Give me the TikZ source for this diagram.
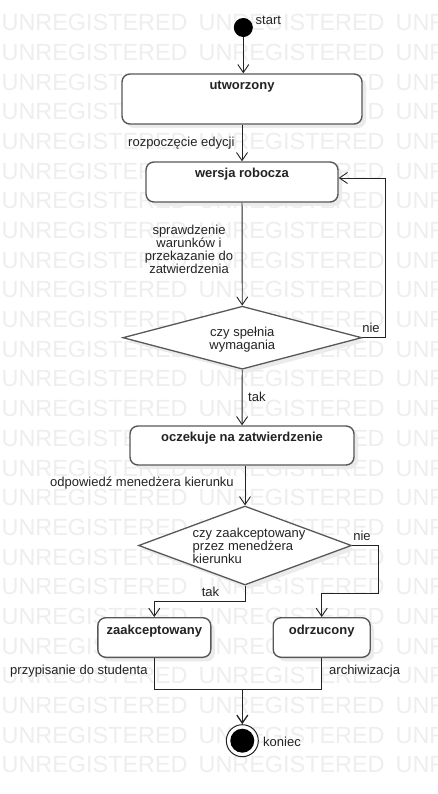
\documentclass[tikz,border=0pt]{standalone}
\usepackage{fontspec}
\setmainfont{Liberation Sans}
\usetikzlibrary{arrows.meta,shapes.geometric,shadows}
\definecolor{wmgray}{RGB}{238,238,238}
\definecolor{edge}{RGB}{88,88,88}
\definecolor{ink}{RGB}{35,35,35}
\tikzset{
  lbl/.style={font=\fontsize{13}{12.8}\selectfont, text=ink, inner sep=0pt},
  stlbl/.style={font=\fontsize{13}{13}\selectfont\bfseries, text=ink, inner sep=0pt, anchor=center},
  shade/.style={drop shadow={shadow xshift=4pt, shadow yshift=-4pt, fill=black!8, opacity=1}},
  statebox/.style={rectangle, rounded corners=8pt, draw=edge, line width=1.4pt, fill=white, inner sep=0pt, shade},
  decision/.style={diamond, draw=edge, line width=1.3pt, fill=white, inner sep=0pt, shade},
  flow/.style={draw=ink, line width=0.9pt, -{Straight Barb[length=8pt,width=11pt]}},
  link/.style={draw=ink, line width=0.9pt},
  wm/.style={font=\fontsize{23.4}{24}\selectfont, text=wmgray, inner sep=0pt, anchor=base west}
}
\begin{document}
\begin{tikzpicture}[x=1pt,y=-1pt]
\useasboundingbox (0,0) rectangle (438,794);
\fill[white] (0,0) rectangle (438,794);
% watermark
\begin{scope}
\clip (0,0) rectangle (438,794);
\foreach \k in {0,...,25}{
  \foreach \j in {0,1,2}{
    \node[wm] (wm-\k-\j) at (1.5+197*\j, 22.5+29.69*\k+8.2) {UNREGISTERED};
  }
}
\end{scope}

% start
\node[circle, fill=black, minimum size=19pt, inner sep=0pt] (start) at (243.3,27.5) {};
\node[lbl, anchor=west] (startT) at (255.5,20.5) {start};

% states
\node[statebox, minimum width=240pt, minimum height=50pt] (utw) at (242,99) {};
\node[stlbl] (utwT) at ([yshift=-13pt]utw.north) {utworzony};

\node[statebox, minimum width=192pt, minimum height=40pt] (wer) at (242,182) {};
\node[stlbl] (werT) at ([yshift=-13pt]wer.north) {wersja robocza};

\node[decision, minimum width=239pt, minimum height=63pt] (q1) at (242.3,337.7) {};
\node[lbl, align=center] (q1T) at (242.3,339.5) {czy spełnia\\wymagania};

\node[statebox, minimum width=224pt, minimum height=39pt] (ocz) at (242,445.5) {};
\node[stlbl] (oczT) at ([yshift=-12.5pt]ocz.north) {oczekuje na zatwierdzenie};

\node[decision, minimum width=213pt, minimum height=79pt] (q2) at (245,545.5) {};
\node[lbl, align=left, anchor=west] (q2T) at (192.5,546) {czy zaakceptowany\\przez menedżera\\kierunku};

\node[statebox, minimum width=113pt, minimum height=39.6pt] (zaa) at (154.3,637.5) {};
\node[stlbl] (zaaT) at ([yshift=-14pt]zaa.north) {zaakceptowany};

\node[statebox, minimum width=97pt, minimum height=39.6pt] (odr) at (321.7,637.5) {};
\node[stlbl] (odrT) at ([yshift=-14pt]odr.north) {odrzucony};

% end
\node[circle, draw=ink, line width=1pt, fill=white, minimum size=32pt, inner sep=0pt] (end) at (242.3,740.7) {};
\node[circle, fill=black, minimum size=24pt, inner sep=0pt] (endin) at (end) {};
\node[lbl, anchor=west] (endT) at (263,741.5) {koniec};

% connectors
\draw[flow] (start) -- (start |- utw.north);
\draw[flow] (utw) -- (wer);
\node[lbl, anchor=west] (l1) at (128,143) {rozpoczęcie edycji};

\draw[flow] (wer) -- (q1);
\node[lbl, align=center] (l2) at (189,249.5) {sprawdzenie\\warunków i\\przekazanie do\\zatwierdzenia};

\coordinate (loop) at (385.5,178);
\draw[flow] (q1.east) -| (loop) -- (loop -| wer.east);
\node[lbl] (l3) at (371,327.5) {nie};

\draw[flow] (q1) -- (ocz);
\node[lbl, anchor=west] (l4) at (248,397) {tak};

\draw[flow] (ocz.south -| q2.north) -- (q2);
\node[lbl, anchor=west] (l5) at (50,483.5) {odpowiedź menedżera kierunku};

\coordinate (nb) at (378,593.3);
\draw[flow] (q2.east) -| (nb) -| (odr.north);
\node[lbl] (l6) at (362,536) {nie};

\coordinate (yb) at (245,601.7);
\draw[flow] (q2.south) -- (yb) -| (zaa.north);
\node[lbl] (l7) at (210.5,591.5) {tak};

\coordinate (join) at (242.3,689.3);
\draw[link] (zaa.south) |- (join) -| (odr.south);
\draw[flow, line width=1.3pt] (join) -- (end);
\node[lbl, anchor=west] (l8) at (10,671) {przypisanie do studenta};
\node[lbl, anchor=west] (l9) at (329,671) {archiwizacja};
\end{tikzpicture}
\end{document}
